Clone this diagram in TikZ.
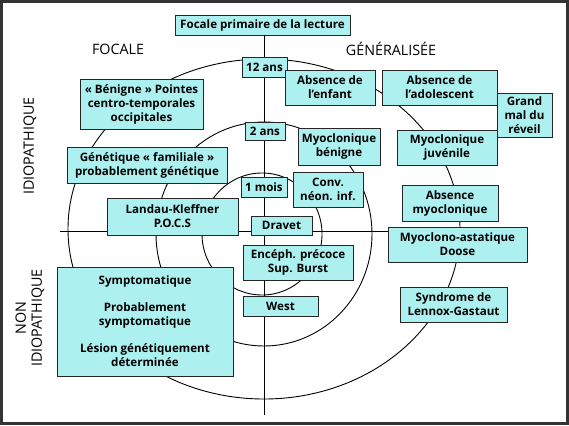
\documentclass[tikz,border=0pt]{standalone}
\usepackage{fontspec}
\setmainfont{Open Sans}
\definecolor{cyanbox}{RGB}{172,240,240}
\begin{document}
\begin{tikzpicture}[x=1pt,y=-1pt,
  box/.style={draw=black!85, fill=cyanbox, line width=0.9pt, align=center,
    font=\bfseries\fontsize{11.6}{14}\selectfont, inner sep=1pt},
  lbl/.style={font=\fontsize{14.3}{15}\selectfont, align=center},
  ax/.style={line width=0.8pt},
  ring/.style={line width=0.9pt}]
\useasboundingbox (0,0) rectangle (569,425);
\fill[white] (0,0) rectangle (569,425);
% rings
\draw[ring] (262,234) ellipse [x radius=60pt, y radius=61pt];
\draw[ring] (264,234) ellipse [x radius=108pt, y radius=112pt];
\draw[ring] (264,229) ellipse [x radius=196pt, y radius=170pt];
% boxes
\node[box, minimum width=175pt, minimum height=20pt] (focale) at (262.5,25) {Focale primaire de la lecture};
\coordinate (bot) at (264.5,415);
\coordinate (hl) at (60,231);
\node[box, minimum width=139pt, minimum height=35pt] (doose) at (457.5,244.5) {Myoclono-astatique\\Doose};
\draw[ax] (focale.south -| bot) -- (bot);
\draw[ax] (hl) -- (hl -| doose.west);
\node[box, minimum width=45pt, minimum height=20pt] (ans12) at (264.5,67) {12 ans};
\node[box, minimum width=90pt, minimum height=35pt] (enfant) at (330,87.5) {Absence de\\l’enfant};
\node[box, minimum width=115pt, minimum height=35pt] (ado) at (439.5,87.5) {Absence de\\l’adolescent};
\node[box, minimum width=55pt, minimum height=44pt] (grandmal) at (524.5,115) {Grand\\mal du\\réveil};
\node[box, minimum width=123pt, minimum height=50pt] (benigne) at (141.5,104) {« Bénigne » Pointes\\centro-temporales\\occipitales};
\node[box, minimum width=40pt, minimum height=18pt] (ans2) at (265,131) {2 ans};
\node[box, minimum width=82pt, minimum height=37pt] (myoben) at (339,146.5) {Myoclonique\\bénigne};
\node[box, minimum width=100pt, minimum height=35pt] (myojuv) at (447,147.5) {Myoclonique\\juvénile};
\node[box, minimum width=160pt, minimum height=36pt] (genet) at (147,165) {Génétique « familiale »\\probablement génétique};
\node[box, minimum width=46pt, minimum height=20pt] (mois1) at (264,187) {1 mois};
\node[box, minimum width=70pt, minimum height=35pt] (conv) at (328,189.5) {Conv.\\néon. inf.};
\node[box, minimum width=96pt, minimum height=36pt] (absmyo) at (450,203) {Absence\\myoclonique};
\node[box, minimum width=131pt, minimum height=37pt] (landau) at (172.5,216.5) {Landau-Kleffner\\P.O.C.S};
\node[box, minimum width=61pt, minimum height=19pt] (dravet) at (281.5,225.5) {Dravet};
\node[box, minimum width=110pt, minimum height=35pt] (enceph) at (298,262.5) {Encéph. précoce\\Sup. Burst};
\node[box, minimum width=75pt, minimum height=20pt] (west) at (280.5,306) {West};
\node[box, minimum width=176pt, minimum height=109pt] (sympt) at (145,321.5) {Symptomatique\\[13pt]Probablement\\symptomatique\\[13pt]Lésion génétiquement\\déterminée};
\node[box, minimum width=107pt, minimum height=35pt] (lennox) at (453.5,304.5) {Syndrome de\\Lennox-Gastaut};
% labels
\node[lbl] (focl) at (118,49) {FOCALE};
\node[lbl] (genl) at (391,49) {GÉNÉRALISÉE};
\node[lbl, rotate=90] (idio) at (30,146) {IDIOPATHIQUE};
\node[lbl, rotate=90, font=\fontsize{14.3}{16}\selectfont] (nonidio) at (30,318) {NON\\IDIOPATHIQUE};
% frame
\draw[line width=3pt, black!80] (1.5,1.5) rectangle (567.5,423.5);
\end{tikzpicture}
\end{document}
